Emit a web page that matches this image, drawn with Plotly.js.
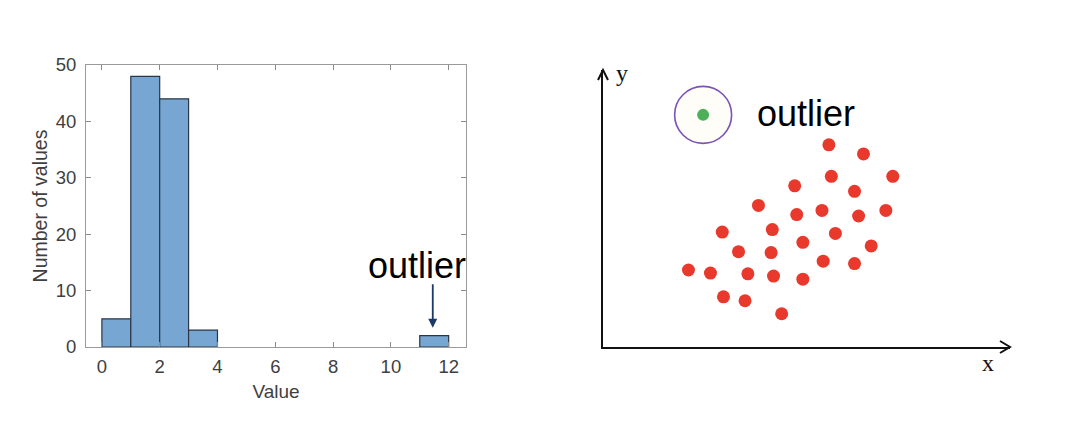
<!DOCTYPE html>
<html>
<head>
<meta charset="utf-8">
<script src="https://cdn.plot.ly/plotly-3.0.1.min.js"></script>
<style>html,body{margin:0;padding:0;background:#fff;}#chart{width:1082px;height:438px;}</style>
</head>
<body>
<div id="chart"></div>
<script>
// ---- Left panel: histogram ----
var binCenters = [0.5, 1.5, 2.5, 3.5, 11.5];
var binCounts = [5, 48, 44, 3, 2];
var binWidth = [1, 1, 1, 1, 1];
var histXTicks = [0, 2, 4, 6, 8, 10, 12];
var histYTicks = [0, 10, 20, 30, 40, 50];
var outlierBinX = 11.45;

// ---- Right panel: scatter ----
var clusterX = [55.5, 64.0, 56.1, 71.2, 47.1, 61.8, 38.2, 47.6, 53.8, 62.8, 69.5, 29.3, 41.6, 57.1,
                49.1, 33.3, 41.3, 65.9, 54.1, 61.8, 21.0, 26.4, 35.6, 41.9, 49.1, 29.6, 34.9, 43.9];
var clusterY = [73.0, 69.7, 61.6, 61.6, 58.2, 56.2, 51.1, 47.8, 49.3, 47.3, 49.3, 41.5, 42.4, 41.0,
                37.8, 34.4, 34.1, 36.5, 31.0, 30.1, 27.8, 26.7, 26.4, 25.6, 24.5, 18.1, 16.7, 12.0];
var outlierX = [24.6];
var outlierY = [83.8];

var W = 1082, H = 438;
function px(x) { return x / W; }
function py(y) { return 1 - y / H; }

var sans = 'Liberation Sans, Arial, Helvetica, sans-serif';
var serif = 'Liberation Serif, Times New Roman, serif';
var grey = '#404040';

var traces = [
  {
    type: 'bar', x: binCenters, y: binCounts, width: binWidth,
    xaxis: 'x', yaxis: 'y',
    marker: {color: '#78a6d3', line: {color: '#2a3644', width: 1.2}},
    hoverinfo: 'x+y'
  },
  {
    type: 'scatter', mode: 'markers', x: clusterX, y: clusterY,
    xaxis: 'x2', yaxis: 'y2',
    marker: {color: '#e8392c', size: 13}
  },
  {
    type: 'scatter', mode: 'markers', x: outlierX, y: outlierY,
    xaxis: 'x2', yaxis: 'y2',
    marker: {color: '#fffdf8', size: 57, line: {color: '#7a52b8', width: 1.6}}
  },
  {
    type: 'scatter', mode: 'markers', x: outlierX, y: outlierY,
    xaxis: 'x2', yaxis: 'y2',
    marker: {color: '#4caf5a', size: 12}
  }
];

var layout = {
  width: W, height: H,
  margin: {l: 0, r: 0, t: 0, b: 0},
  paper_bgcolor: '#ffffff', plot_bgcolor: '#ffffff',
  showlegend: false,
  bargap: 0,
  font: {family: sans, color: grey},
  xaxis: {
    domain: [px(86), px(466)], anchor: 'y',
    range: [-0.55, 12.6],
    tickvals: histXTicks, ticks: 'inside', ticklen: 5, tickcolor: '#8a8a8a',
    showline: true, linecolor: '#9a9a9a', linewidth: 1, mirror: 'ticks',
    showgrid: false, zeroline: false,
    ticklabelstandoff: 3,
    tickfont: {size: 18.5, color: grey, family: sans},
    title: {text: 'Value', font: {size: 19, color: grey, family: sans}, standoff: 8}
  },
  yaxis: {
    domain: [py(347), py(65)], anchor: 'x',
    range: [0, 50],
    tickvals: histYTicks, ticks: 'inside', ticklen: 5, tickcolor: '#8a8a8a',
    showline: true, linecolor: '#9a9a9a', linewidth: 1, mirror: 'ticks',
    showgrid: false, zeroline: false,
    ticklabelstandoff: 5,
    tickfont: {size: 18.5, color: grey, family: sans},
    title: {text: 'Number of values', font: {size: 19.5, color: grey, family: sans}, standoff: 2}
  },
  xaxis2: {
    domain: [px(603), px(1010)], anchor: 'y2',
    range: [0, 100],
    showline: true, linecolor: '#111111', linewidth: 2,
    showgrid: false, zeroline: false, showticklabels: false, ticks: ''
  },
  yaxis2: {
    domain: [py(347), py(70)], anchor: 'x2',
    range: [0, 100],
    showline: true, linecolor: '#111111', linewidth: 2,
    showgrid: false, zeroline: false, showticklabels: false, ticks: ''
  },
  shapes: [
    {type: 'path', xref: 'paper', yref: 'paper',
     path: 'M ' + px(1000) + ' ' + py(341) + ' L ' + px(1010) + ' ' + py(347) + ' L ' + px(1000) + ' ' + py(353),
     line: {color: '#111111', width: 2}},
    {type: 'path', xref: 'paper', yref: 'paper',
     path: 'M ' + px(598) + ' ' + py(80) + ' L ' + px(603) + ' ' + py(70) + ' L ' + px(608) + ' ' + py(80),
     line: {color: '#111111', width: 2}}
  ],
  annotations: [
    {xref: 'paper', yref: 'paper', x: px(417), y: py(265), xanchor: 'center', yanchor: 'middle',
     text: 'outlier', showarrow: false, font: {size: 36, color: '#000000', family: sans}},
    {xref: 'x', yref: 'y', x: outlierBinX, y: 3.4, axref: 'x', ayref: 'y', ax: outlierBinX, ay: 11.4,
     text: '', showarrow: true, arrowhead: 2, arrowsize: 1, arrowwidth: 1.8, arrowcolor: '#1b3a66'},
    {xref: 'paper', yref: 'paper', x: px(806), y: py(114), xanchor: 'center', yanchor: 'middle',
     text: 'outlier', showarrow: false, font: {size: 36, color: '#000000', family: sans}},
    {xref: 'paper', yref: 'paper', x: px(622), y: py(73), xanchor: 'center', yanchor: 'middle',
     text: 'y', showarrow: false, font: {size: 24, color: '#111111', family: serif}},
    {xref: 'paper', yref: 'paper', x: px(988), y: py(363), xanchor: 'center', yanchor: 'middle',
     text: 'x', showarrow: false, font: {size: 24, color: '#111111', family: serif}}
  ]
};

Plotly.newPlot('chart', traces, layout, {displayModeBar: false, staticPlot: true});
</script>
</body>
</html>
